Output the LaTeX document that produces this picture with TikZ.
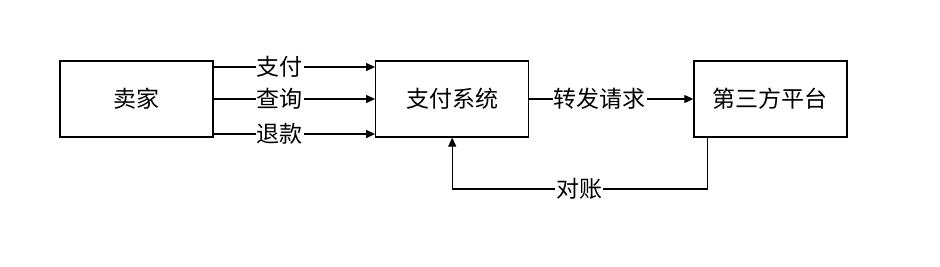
\documentclass[tikz,border=0pt]{standalone}
\usepackage{fontspec}
\setmainfont{Noto Sans CJK SC}
\usetikzlibrary{positioning,arrows.meta,calc}

\begin{document}
\begin{tikzpicture}[
		x=1pt, y=-1pt,
		line width=1.2pt,
		font=\fontsize{23}{26}\selectfont,
		box/.style={
			draw,
			minimum width=153pt,
			minimum height=76pt,
			inner sep=0pt
		},
		flow/.style={-{Triangle[length=9pt,width=8pt]}},
		lbl/.style={fill=white, inner sep=1pt}
		]
		
		\useasboundingbox (0,0) rectangle (940,266);
		
		\node[box] (seller) at (136.5,99) {卖家};
		
		\node[box,right=161.5pt of seller] (paysys) {支付系统};
		
		\node[box,right=164pt of paysys] (third) {第三方平台};
		
		\draw[flow] ([yshift=32pt]seller.east) -- ([yshift=32pt]paysys.west)
		node[lbl,pos=0.41] {支付};
		\draw[flow] (seller.east) -- (paysys.west)
		node[lbl,pos=0.41] {查询};
		\draw[flow] ([yshift=-35pt]seller.east) -- ([yshift=-35pt]paysys.west)
		node[lbl,pos=0.41] {退款};
		
		\draw[flow] (paysys.east) -- (third.west)
		node[lbl,pos=0.43] {转发请求};
		
		\coordinate (recon) at (579,189);
		\draw[flow] ([xshift=-63pt]third.south) |- (recon) -| (paysys.south);
		\node[lbl] at (recon) {对账};
		
	\end{tikzpicture}
\end{document}
